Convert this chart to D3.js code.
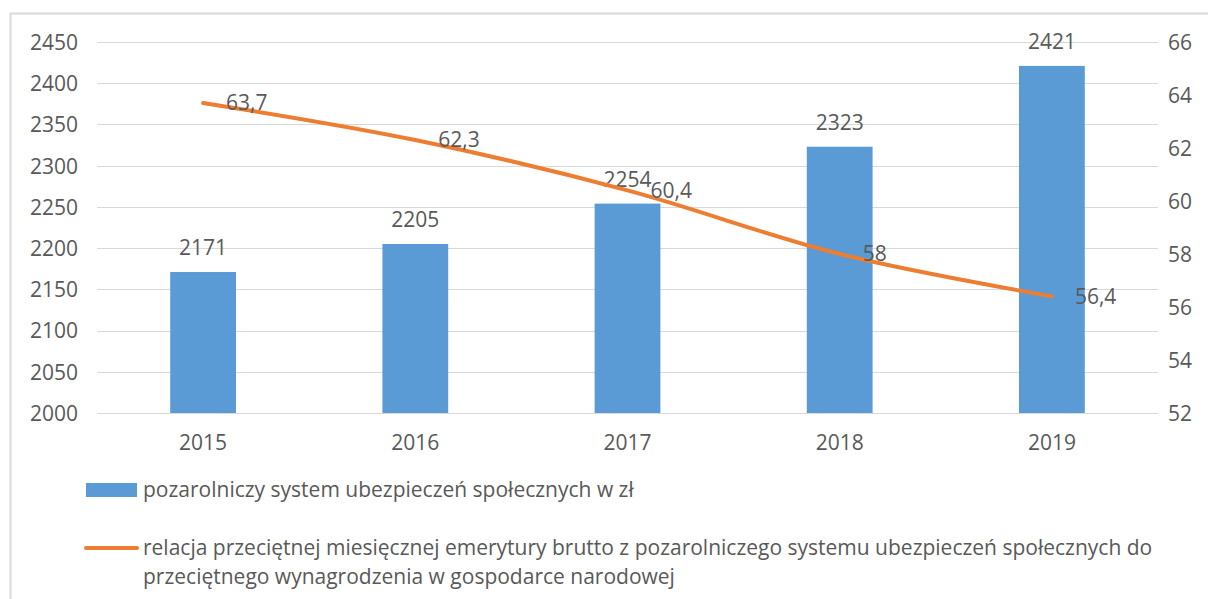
<!DOCTYPE html>
<html><head><meta charset="utf-8">
<script src="https://cdn.jsdelivr.net/npm/d3@7"></script>
<style>body{margin:0;background:#fff;} svg{display:block;font-family:"Open Sans",sans-serif;}</style>
</head><body>
<svg id="c" width="1208" height="599"></svg>
<script>
const categories = ["2015","2016","2017","2018","2019"];
const barValues = [2171, 2205, 2254, 2323, 2421];
const lineValues = [63.7, 62.3, 60.4, 58, 56.4];
const lineLabels = ["63,7","62,3","60,4","58","56,4"];
const leftTicks = [2000,2050,2100,2150,2200,2250,2300,2350,2400,2450];
const rightTicks = [52,54,56,58,60,62,64,66];
const legendBar = "pozarolniczy system ubezpieczeń społecznych w zł";
const legendLine = ["relacja przeciętnej miesięcznej emerytury brutto z pozarolniczego systemu ubezpieczeń społecznych do","przeciętnego wynagrodzenia w gospodarce narodowej"];

const svg = d3.select("#c");
const textColor = "#595959", barColor = "#5B9BD5", lineColor = "#ED7D31", gridColor = "#d9d9d9";
const fs = 21;

svg.append("rect").attr("x",10.5).attr("y",13.5).attr("width",1230).attr("height",620)
  .attr("fill","#fff").attr("stroke","#d9d9d9").attr("stroke-width",2);

const L = 97, R = 1158, T = 42, B = 413;
const x = d3.scaleBand().domain(categories).range([L,R]).paddingInner(0.69).paddingOuter(0.345);
const xc = d3.scaleBand().domain(categories).range([L,R]);
const yL = d3.scaleLinear().domain([2000,2450]).range([B,T]);
const yR = d3.scaleLinear().domain([52,66]).range([B,T]);

// grid
svg.append("g").selectAll("line").data(leftTicks).join("line")
  .attr("x1",L).attr("x2",R).attr("y1",d=>Math.round(yL(d))+0.5).attr("y2",d=>Math.round(yL(d))+0.5)
  .attr("stroke",gridColor).attr("stroke-width",1);

function styleAxis(g){
  g.select(".domain").remove();
  g.selectAll("text").attr("fill",textColor).style("font-size",fs+"px").style("font-family","Open Sans").attr("dy","0.35em");
}
const ax = d3.axisLeft(yL).tickValues(leftTicks).tickFormat(d3.format("d")).tickSize(0).tickPadding(0);
svg.append("g").attr("transform",`translate(78,0)`).call(ax).call(styleAxis);

const axr = d3.axisRight(yR).tickValues(rightTicks).tickFormat(d3.format("d")).tickSize(0).tickPadding(0);
svg.append("g").attr("transform",`translate(1168,0)`).call(axr).call(styleAxis);

const axb = d3.axisBottom(xc).tickSize(0).tickPadding(0);
svg.append("g").attr("transform",`translate(0,443)`).call(axb).call(styleAxis);

// bars
svg.append("g").selectAll("rect").data(barValues).join("rect")
  .attr("x",(d,i)=>x(categories[i])).attr("width",x.bandwidth())
  .attr("y",d=>yL(d)).attr("height",d=>B-yL(d)).attr("fill",barColor);

svg.append("g").selectAll("text").data(barValues).join("text")
  .attr("x",(d,i)=>xc(categories[i])+xc.bandwidth()/2).attr("y",d=>yL(d)-24)
  .attr("text-anchor","middle").attr("dy","0.35em").attr("fill",textColor).style("font-size",fs+"px")
  .text(d=>d);

// line
const line = d3.line().x((d,i)=>xc(categories[i])+xc.bandwidth()/2).y(d=>yR(d)).curve(d3.curveCatmullRom.alpha(0.5));
svg.append("path").datum(lineValues).attr("d",line).attr("fill","none")
  .attr("stroke",lineColor).attr("stroke-width",4).attr("stroke-linecap","round");

svg.append("g").selectAll("text").data(lineValues).join("text")
  .attr("x",(d,i)=>xc(categories[i])+xc.bandwidth()/2+23).attr("y",d=>yR(d))
  .attr("dy","0.35em").attr("fill",textColor).style("font-size",fs+"px")
  .text((d,i)=>lineLabels[i]);

// legend
svg.append("rect").attr("x",86).attr("y",483).attr("width",51).attr("height",14).attr("fill",barColor);
svg.append("text").attr("x",143).attr("y",490).attr("dy","0.35em").attr("fill",textColor).style("font-size",fs+"px").text(legendBar);
svg.append("line").attr("x1",86).attr("x2",137).attr("y1",548).attr("y2",548).attr("stroke",lineColor).attr("stroke-width",4).attr("stroke-linecap","round");
svg.append("g").selectAll("text").data(legendLine).join("text")
  .attr("x",143).attr("y",(d,i)=>548+i*29).attr("dy","0.35em").attr("fill",textColor).style("font-size",fs+"px").text(d=>d);
</script>
</body></html>
